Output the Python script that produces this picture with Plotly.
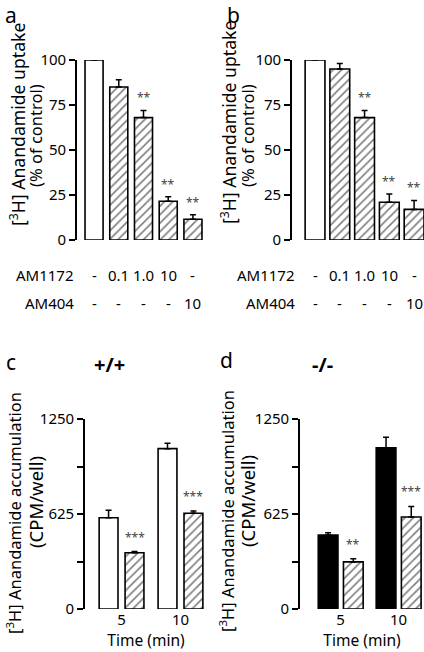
import plotly.graph_objects as go

# ---------------- data ----------------
conc_labels = ["-", "0.1", "1.0", "10", "-"]          # AM1172 row
am404_labels = ["-", "-", "-", "-", "10"]              # AM404 row
uptake_a = [100, 85, 68, 21.5, 11.5]
uptake_a_err = [2, 4, 4, 2.5, 2.5]
uptake_b = [100, 95, 68, 21, 17]
uptake_b_err = [4, 3, 4, 4.5, 5]
stars_ab = ["", "", "**", "**", "**"]
bar_patterns_ab = ["", "/", "/", "/", "/"]

times = ["5", "10"]
c_control = [600, 1055]
c_control_err = [50, 35]
c_treated = [370, 630]
c_treated_err = [8, 15]
c_stars = ["***", "***"]
d_control = [487, 1060]
d_control_err = [15, 70]
d_treated = [310, 605]
d_treated_err = [20, 70]
d_stars = ["**", "***"]

y_ticks_cd = [0, 625, 1250]
y_minor_cd = [312.5, 937.5]
y_ticks_ab = [0, 25, 50, 75, 100]

ab_title_1 = "[<sup>3</sup>H] Anandamide uptake"
ab_title_2 = "(% of control)"
cd_title_1 = "[<sup>3</sup>H] Anandamide accumulation"
cd_title_2 = "(CPM/well)"

FONT = "Noto Sans"
W, H = 424, 652
def px(x):
    return x / W
def py(y):
    return 1 - y / H

fig = go.Figure()

line_w = 1.6
err_style = dict(type="data", symmetric=False, color="black", thickness=1.5, width=3)
hatch = dict(fgcolor="black", bgcolor="white", size=6, solidity=0.27)

# panel a
xa = list(range(len(uptake_a)))
fig.add_trace(go.Bar(
    x=xa, y=uptake_a, width=0.73, xaxis="x", yaxis="y",
    marker=dict(color="white", line=dict(color="black", width=line_w),
                pattern=dict(shape=bar_patterns_ab, **hatch)),
    error_y=dict(array=uptake_a_err, arrayminus=[0]*5, **err_style),
    cliponaxis=False, showlegend=False))
# panel b
fig.add_trace(go.Bar(
    x=xa, y=uptake_b, width=0.8, xaxis="x2", yaxis="y2",
    marker=dict(color="white", line=dict(color="black", width=line_w),
                pattern=dict(shape=bar_patterns_ab, **hatch)),
    error_y=dict(array=uptake_b_err, arrayminus=[0]*5, **err_style),
    cliponaxis=False, showlegend=False))

xt = list(range(len(times)))
# panel c
fig.add_trace(go.Bar(
    x=xt, y=c_control, width=0.32, offset=-0.38, xaxis="x3", yaxis="y3",
    marker=dict(color="white", line=dict(color="black", width=line_w)),
    error_y=dict(array=c_control_err, arrayminus=[0]*2, **err_style),
    cliponaxis=False, showlegend=False))
fig.add_trace(go.Bar(
    x=xt, y=c_treated, width=0.32, offset=0.06, xaxis="x3", yaxis="y3",
    marker=dict(color="white", line=dict(color="black", width=line_w),
                pattern=dict(shape="/", **hatch)),
    error_y=dict(array=c_treated_err, arrayminus=[0]*2, **err_style),
    cliponaxis=False, showlegend=False))
# panel d
fig.add_trace(go.Bar(
    x=xt, y=d_control, width=0.34, offset=-0.385, xaxis="x4", yaxis="y4",
    marker=dict(color="black", line=dict(color="black", width=line_w)),
    error_y=dict(array=d_control_err, arrayminus=[0]*2, **err_style),
    cliponaxis=False, showlegend=False))
fig.add_trace(go.Bar(
    x=xt, y=d_treated, width=0.34, offset=0.05, xaxis="x4", yaxis="y4",
    marker=dict(color="white", line=dict(color="black", width=line_w),
                pattern=dict(shape="/", **hatch)),
    error_y=dict(array=d_treated_err, arrayminus=[0]*2, **err_style),
    cliponaxis=False, showlegend=False))

tickfont = dict(family=FONT, size=15, color="black")
def yax(domain, rng, tickvals, anchor, minor_vals=None):
    d = dict(domain=domain, range=rng, tickvals=tickvals, ticktext=[f"{v:g}" for v in tickvals],
             showline=True, linecolor="black", linewidth=line_w,
             ticks="outside", ticklen=6, tickwidth=line_w, tickcolor="black",
             showgrid=False, zeroline=False, tickfont=tickfont, anchor=anchor,
             automargin=False, fixedrange=True)
    if minor_vals:
        d["minor"] = dict(tickvals=minor_vals, ticks="outside", ticklen=6, tickwidth=line_w,
                          tickcolor="black", showgrid=False)
    return d
def xax(domain, rng, anchor, tickvals=None, ticktext=None, show=False, title=None):
    d = dict(domain=domain, range=rng, anchor=anchor, showline=False, showgrid=False,
             zeroline=False, ticks="", tickfont=tickfont, fixedrange=True, automargin=False)
    if show:
        d.update(tickvals=tickvals, ticktext=ticktext, showticklabels=True)
        if title:
            d["title"] = dict(text=title, font=dict(family=FONT, size=15.5, color="black"), standoff=2)
    else:
        d.update(showticklabels=False)
    return d

fig.update_layout(
    width=W, height=H, margin=dict(l=0, r=0, t=0, b=0, autoexpand=False),
    paper_bgcolor="white", plot_bgcolor="white",
    font=dict(family=FONT, color="black"),
    xaxis=xax([px(77), px(210)], [-0.69, 4.69], "y"),
    yaxis=yax([py(240), py(60)], [0, 100], y_ticks_ab, "x"),
    xaxis2=xax([px(292), 1.0], [-0.93, 4.40], "y2"),
    yaxis2=yax([py(240), py(60)], [0, 100], y_ticks_ab, "x2"),
    xaxis3=xax([px(85), px(207)], [-0.62, 1.45], "y3", xt, times, True, "Time (min)"),
    yaxis3=yax([py(609), py(419)], [0, 1250], y_ticks_cd, "x3", y_minor_cd),
    xaxis4=xax([px(300), 1.0], [-0.70, 1.44], "y4", xt, times, True, "Time (min)"),
    yaxis4=yax([py(609), py(419)], [0, 1250], y_ticks_cd, "x4", y_minor_cd),
)

ann = []
# rotated y-axis titles
for text, x, y, size in [(ab_title_1, 17, 125, 17.6), (ab_title_2, 35, 136, 16.5),
                         (ab_title_1, 228, 123, 17.6), (ab_title_2, 247, 135, 16.5),
                         (cd_title_1, 14, 513, 16.5), (cd_title_2, 35, 502, 18.5),
                         (cd_title_1, 227, 511, 16.5), (cd_title_2, 247, 501, 18.5)]:
    ann.append(dict(x=px(x), y=py(y), xref="paper", yref="paper", text=text, textangle=-90,
                    showarrow=False, xanchor="center", yanchor="middle",
                    font=dict(family=FONT, size=size, color="black")))

star_font = dict(family=FONT, size=12, color="#444444")
for xr, yr, vals, errs in [("x", "y", uptake_a, uptake_a_err), ("x2", "y2", uptake_b, uptake_b_err)]:
    for i, s in enumerate(stars_ab):
        if s:
            ann.append(dict(x=i, y=vals[i] + errs[i], xref=xr, yref=yr, text=s, showarrow=False,
                            xanchor="center", yanchor="bottom", yshift=2, font=star_font))
for i, s in enumerate(c_stars):
    ann.append(dict(x=i + 0.22, y=c_treated[i] + c_treated_err[i], xref="x3", yref="y3", text=s,
                    showarrow=False, xanchor="center", yanchor="bottom", yshift=4, font=star_font))
for i, s in enumerate(d_stars):
    ann.append(dict(x=i + 0.22, y=d_treated[i] + d_treated_err[i], xref="x4", yref="y4", text=s,
                    showarrow=False, xanchor="center", yanchor="bottom", yshift=4, font=star_font))

# treatment rows
row_font = dict(family=FONT, size=15, color="black")
for xr, label_x in [("x", 76), ("x2", 297)]:
    ann.append(dict(x=px(label_x), y=py(275), xref="paper", yref="paper", text="AM1172",
                    xanchor="right", yanchor="middle", showarrow=False, font=row_font))
    ann.append(dict(x=px(label_x), y=py(303), xref="paper", yref="paper", text="AM404",
                    xanchor="right", yanchor="middle", showarrow=False, font=row_font))
    for i, t in enumerate(conc_labels):
        ann.append(dict(x=i, y=py(275), xref=xr, yref="paper", text=t, showarrow=False,
                        xanchor="center", yanchor="middle", font=row_font))
    for i, t in enumerate(am404_labels):
        ann.append(dict(x=i, y=py(303), xref=xr, yref="paper", text=t, showarrow=False,
                        xanchor="center", yanchor="middle", font=row_font))

# panel letters and titles
letter_font = dict(family=FONT, size=21, color="black")
for t, x, y in [("a", 11, 15), ("b", 233, 15), ("c", 11, 362), ("d", 227, 360)]:
    ann.append(dict(x=px(x), y=py(y), xref="paper", yref="paper", text=t, showarrow=False,
                    xanchor="center", yanchor="middle", font=letter_font))
title_font = dict(family=FONT, size=20, color="black")
ann.append(dict(x=px(109), y=py(364), xref="paper", yref="paper", text="<b>+/+</b>", showarrow=False,
                xanchor="center", yanchor="middle", font=title_font))
ann.append(dict(x=px(322), y=py(364), xref="paper", yref="paper", text="<b>-/-</b>", showarrow=False,
                xanchor="center", yanchor="middle", font=title_font))

fig.update_layout(annotations=ann)
fig.write_html("out.html", config={"displayModeBar": False},
               post_script="document.body.style.margin='0px';document.body.style.overflow='hidden';")
